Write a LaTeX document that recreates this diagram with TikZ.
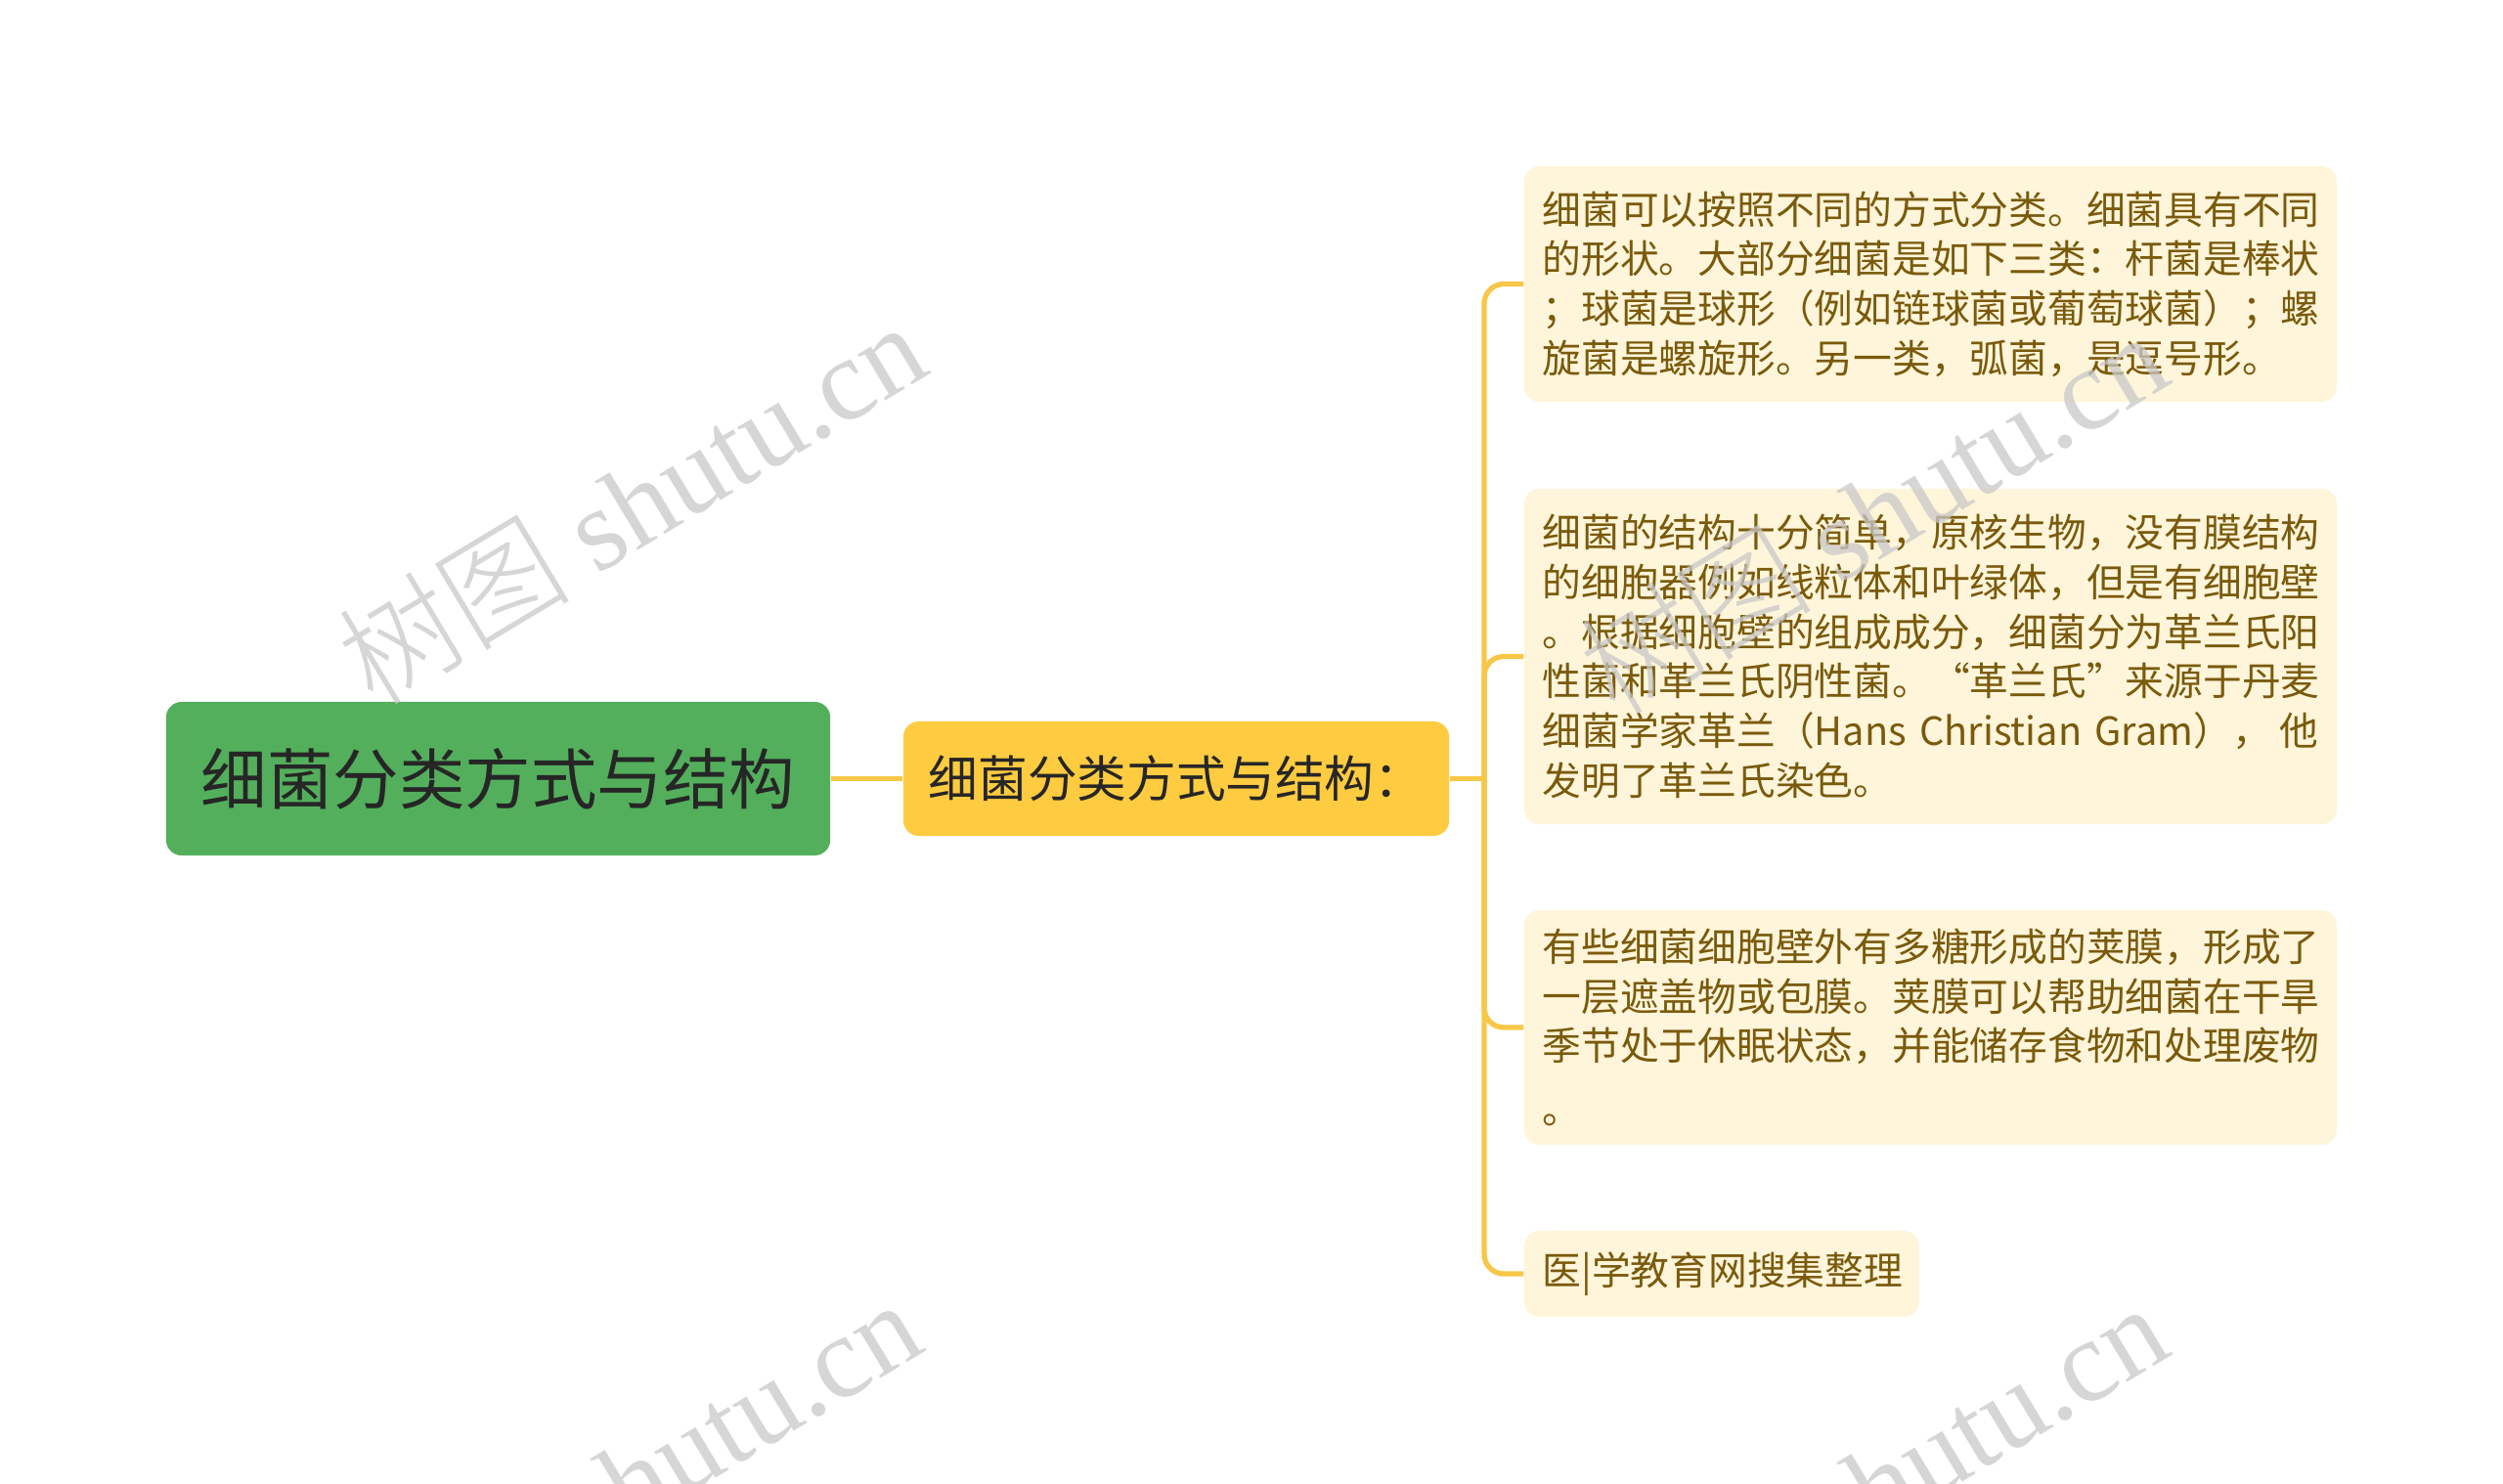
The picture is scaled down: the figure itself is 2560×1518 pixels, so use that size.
\documentclass[tikz,border=0pt]{standalone}
\usepackage{fontspec}
\setmainfont{Noto Sans CJK SC}
\newfontfamily\wmlatin{Liberation Serif}
\newfontfamily\wmcjk{Noto Sans CJK SC Light}
\usetikzlibrary{positioning}
\definecolor{rootgreen}{RGB}{83,175,92}
\definecolor{midyellow}{RGB}{255,203,64}
\definecolor{linkyellow}{RGB}{248,199,72}
\definecolor{leafcream}{RGB}{254,245,218}
\definecolor{leafink}{RGB}{122,90,12}
\definecolor{rootink}{RGB}{38,38,38}
\definecolor{markgray}{RGB}{200,200,200}

\tikzset{
  rootbox/.style={fill=rootgreen, rounded corners=1.6mm, text=rootink,
    font=\fontsize{19.2}{23}\selectfont, minimum width=6.79cm,
    minimum height=1.57cm, inner sep=0pt},
  midbox/.style={fill=midyellow, rounded corners=1.6mm, text=rootink,
    font=\fontsize{14.4}{18}\selectfont, minimum width=5.58cm,
    minimum height=1.17cm, inner sep=0pt},
  leafbox/.style={fill=leafcream, rounded corners=1.6mm, text=leafink,
    font=\fontsize{11.3}{14.4}\selectfont, align=left, anchor=west,
    inner xsep=0.19cm, inner ysep=0pt, text width=7.93cm},
  link/.style={draw=linkyellow, line width=1.5pt},
  watermark/.style={text=markgray, opacity=0.75, rotate=31,
    font=\fontsize{34}{40}\selectfont}
}

\begin{document}
\begin{tikzpicture}[x=0.01cm, y=-0.01cm]
    \useasboundingbox (0,0) rectangle (2560,1518);

    % Root and middle topic
    \node[rootbox] (root) at (509.5,796.5) {细菌分类方式与结构};
    \node[midbox] (topic) at (1203,796.5) {细菌分类方式与结构：};
    \coordinate (spine) at (1518,796.5);

    % Leaves
    \node[leafbox, minimum height=2.41cm] (leafA) at (1558,290.5) {%
细菌可以按照不同的方式分类。细菌具有不同\\
的形状。大部分细菌是如下三类：杆菌是棒状\\
；球菌是球形（例如链球菌或葡萄球菌）；螺\\
旋菌是螺旋形。另一类，弧菌，是逗号形。};

    \node[leafbox, minimum height=3.43cm] (leafB) at (1558,671.5) {%
细菌的结构十分简单，原核生物，没有膜结构\\
的细胞器例如线粒体和叶绿体，但是有细胞壁\\
。根据细胞壁的组成成分，细菌分为革兰氏阳\\
性菌和革兰氏阴性菌。“革兰氏”来源于丹麦\\
细菌学家革兰（Hans Christian Gram），\hfill 他\\
发明了革兰氏染色。};

    \node[leafbox, minimum height=2.40cm] (leafC) at (1558,1051) {%
有些细菌细胞壁外有多糖形成的荚膜，形成了\\
一层遮盖物或包膜。荚膜可以帮助细菌在干旱\\
季节处于休眠状态，并能储存食物和处理废物\\[4pt]
。};

    \node[leafbox, minimum height=0.88cm, text width=3.66cm] (leafD) at (1558,1303) {医|学教育网搜集整理};

    % Connectors
    \draw[link] (root.east) -- (topic.west);
    \draw[link] (topic.east) -- (spine);
    \foreach \leaf in {leafA,leafB,leafC,leafD}
        \draw[link, rounded corners=2mm] (spine) |- (\leaf.west);

    % Watermarks
    \node[watermark] (wmA) at (645,514) {{\wmcjk 树图} {\wmlatin shutu.cn}};
    \node[watermark] (wmB) at (1915,524) {{\wmcjk 树图} {\wmlatin shutu.cn}};
    \node[watermark] (wmC) at (640,1514) {{\wmcjk 树图} {\wmlatin shutu.cn}};
    \node[watermark] (wmD) at (1915,1518) {{\wmcjk 树图} {\wmlatin shutu.cn}};
\end{tikzpicture}
\end{document}
